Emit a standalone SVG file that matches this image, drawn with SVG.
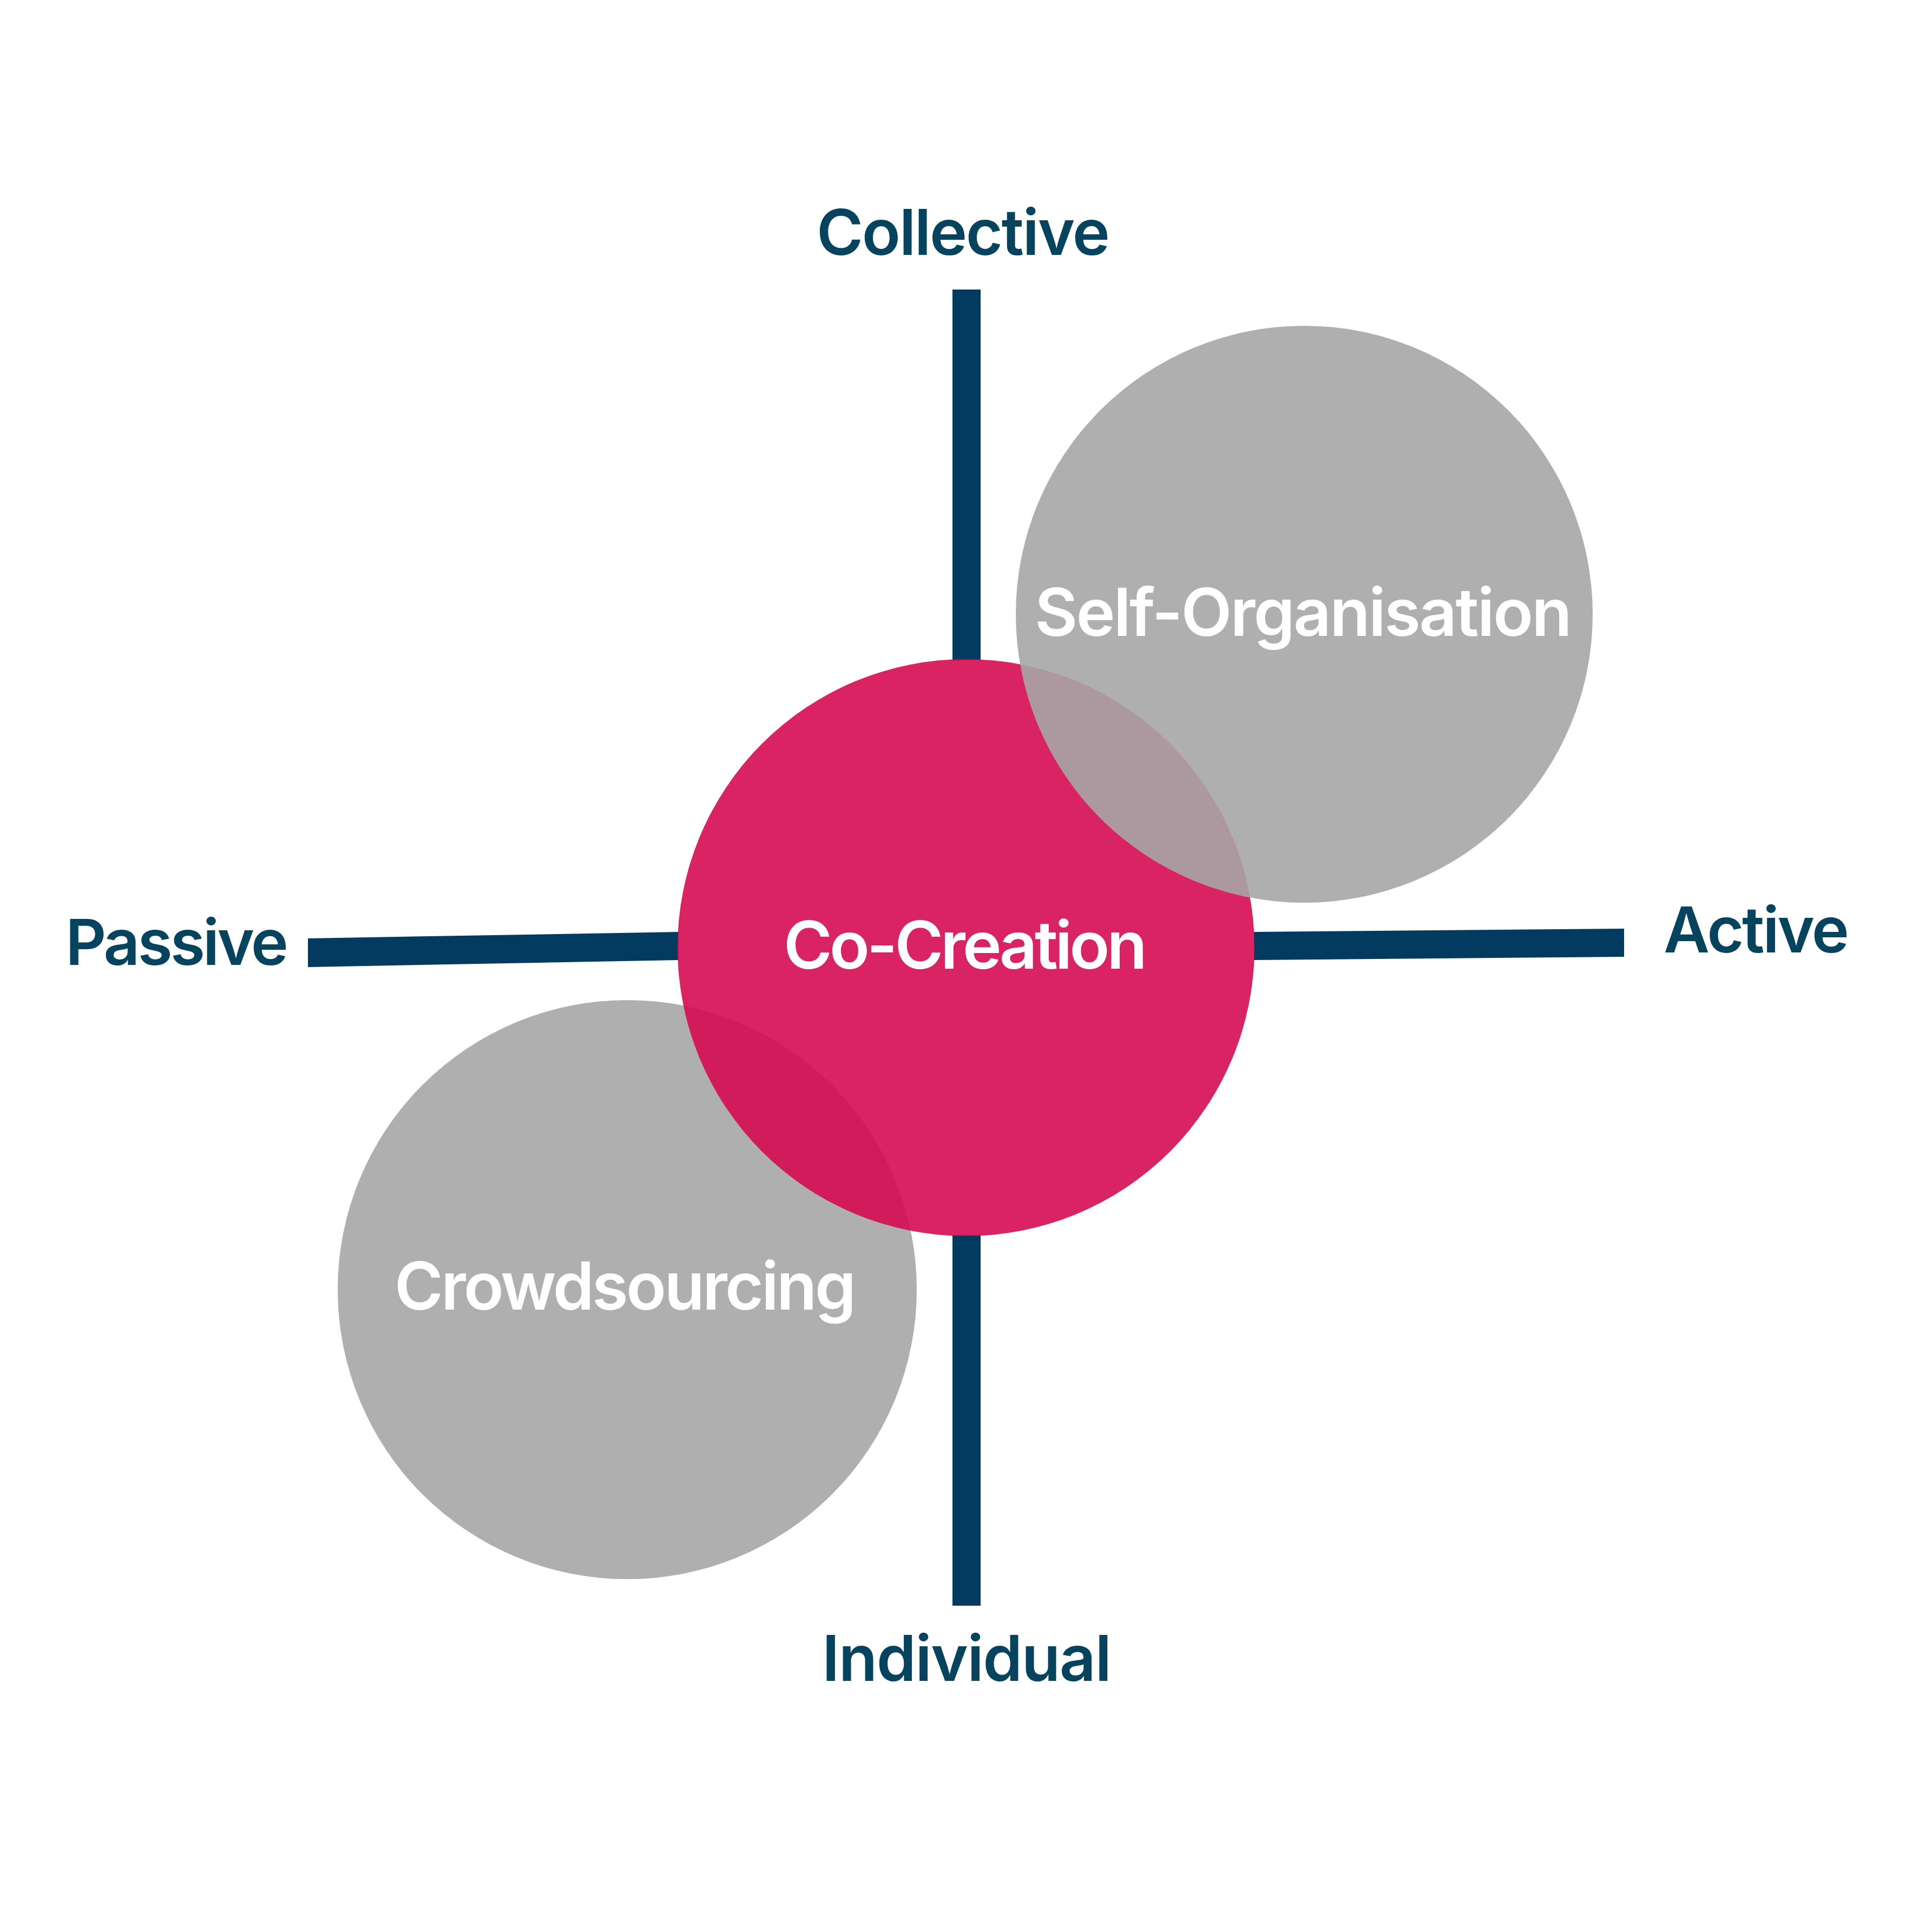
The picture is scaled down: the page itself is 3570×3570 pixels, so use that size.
<svg xmlns="http://www.w3.org/2000/svg" width="3570" height="3570" viewBox="0 0 3570 3570">
<style>
text{font-family:Inter,Roboto,"Liberation Sans",sans-serif;font-weight:600;font-size:122px;font-variant-ligatures:none}
.lbl{fill:#06435E;font-size:117px}
.in{fill:#FFFFFF}
.axis{fill:#023B5F}
.grey{fill:#A6A6A6;fill-opacity:0.9}
.pink{fill:#D60B51;fill-opacity:0.9}
</style>
<rect width="3570" height="3570" fill="#FFFFFF"/>
<g id="connectors">
<polygon class="axis" points="1760,535 1812,535 1812,1219 1760,1221"/>
<rect class="axis" x="1760" y="2282" width="52" height="685"/>
<polygon class="axis" points="569,1734 1254,1722 1254,1774 569,1787"/>
<polygon class="axis" points="2317,1722 3001,1716 3001,1768 2317,1774"/>
</g>
<g id="crowdsourcing">
<circle class="grey" cx="1159" cy="2383" r="535"/>
</g>
<g id="co-creation">
<circle class="pink" cx="1785" cy="1751" r="533"/>
<text class="in" x="1448" y="1790" textLength="672">Co-Creation</text>
</g>
<g id="self-organisation">
<circle class="grey" cx="2410" cy="1135" r="533"/>
<text class="in" x="1912" y="1175" textLength="993">Self-Organisation</text>
</g>
<text class="in" x="729" y="2420" textLength="853">Crowdsourcing</text>
<g id="collective"><text class="lbl" x="1509" y="471" textLength="542">Collective</text></g>
<g id="individual"><text class="lbl" x="1519" y="3106" textLength="535">Individual</text></g>
<g id="passive"><text class="lbl" x="121" y="1783" textLength="412">Passive</text></g>
<g id="active"><text class="lbl" x="3074" y="1760" textLength="343">Active</text></g>
</svg>
